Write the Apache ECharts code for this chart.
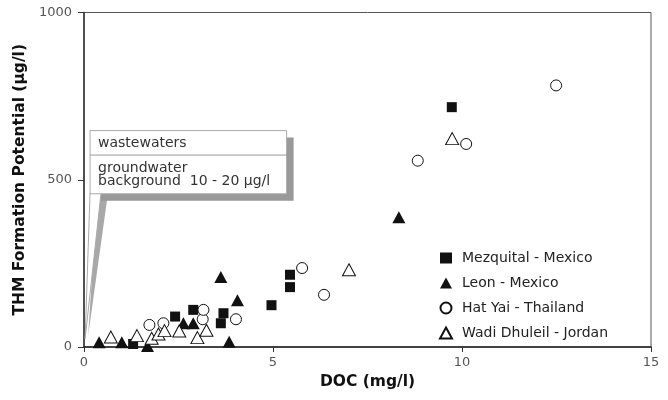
<!DOCTYPE html>
<html><head><meta charset="utf-8">
<script src="https://cdn.jsdelivr.net/npm/echarts@6/dist/echarts.min.js"></script>
<style>html,body{margin:0;padding:0;background:#fff}#c{width:668px;height:400px}</style>
</head><body><div id="c"></div>
<script>
// ---- data (DOC mg/l, THM formation potential µg/l) ----
const seriesNames = ["Mezquital - Mexico", "Leon - Mexico", "Hat Yai - Thailand", "Wadi Dhuleil - Jordan"];
const mezquitalDOC = [1.30, 2.41, 2.89, 3.62, 3.69, 4.96, 5.45, 5.45, 9.73];
const mezquitalTHM = [9, 91, 111, 71, 101, 125, 179, 216, 717];
const leonDOC = [0.40, 1.00, 1.68, 2.63, 2.89, 3.62, 3.84, 4.06, 8.33];
const leonTHM = [14, 14, 3, 71, 71, 209, 16, 140, 388];
const hatYaiDOC = [1.73, 2.10, 3.14, 3.16, 4.02, 5.77, 6.35, 8.83, 10.11, 12.49];
const hatYaiTHM = [66, 71, 83, 111, 83, 236, 156, 557, 607, 782];
const wadiDOC = [0.71, 1.40, 1.79, 1.97, 2.13, 2.52, 3.00, 3.24, 7.01, 9.74];
const wadiTHM = [30, 34, 26, 39, 49, 48, 28, 50, 231, 623];
const calloutLines = ["wastewaters", "groundwater", "background  10 - 20 µg/l"];
const calloutTip = [0.03, 25];

const pairs = (xs, ys) => xs.map((x, i) => [x, ys[i]]);
const FONT = "DejaVu Sans";

const chart = echarts.init(document.getElementById('c'), null, {renderer: 'canvas'});
const filled = {color: '#111', borderColor: '#111', borderWidth: 0, opacity: 1};
const hollow = {color: '#fff', borderColor: '#111', borderWidth: 1, opacity: 1};

chart.setOption({
  animation: false,
  backgroundColor: '#fff',
  grid: {left: 84, right: 17, top: 12.5, bottom: 53, show: true, borderColor: '#555', borderWidth: 1, backgroundColor: 'transparent'},
  xAxis: {
    type: 'value', min: 0, max: 15, interval: 5,
    name: 'DOC (mg/l)', nameLocation: 'middle', nameGap: 25,
    nameTextStyle: {fontFamily: FONT, fontWeight: 'bold', fontSize: 15.5, color: '#111'},
    axisLine: {show: true, lineStyle: {color: '#222', width: 1.5}},
    axisTick: {show: true, length: 5, lineStyle: {color: '#333'}},
    axisLabel: {fontFamily: FONT, fontSize: 13, color: '#555', margin: 9, formatter: v => String(v)},
    splitLine: {show: false}
  },
  yAxis: {
    type: 'value', min: 0, max: 1000, interval: 500,
    name: 'THM Formation Potential (µg/l)', nameLocation: 'middle', nameGap: 45,
    nameTextStyle: {fontFamily: FONT, fontWeight: 'bold', fontSize: 15.5, color: '#111'},
    axisLine: {show: true, lineStyle: {color: '#333', width: 1.5}},
    axisTick: {show: true, length: 6, lineStyle: {color: '#333'}},
    axisLabel: {fontFamily: FONT, fontSize: 13, color: '#555', margin: 12, formatter: v => String(v)},
    splitLine: {show: false}
  },
  legend: {
    orient: 'vertical', left: 434, top: 246, itemWidth: 12, itemHeight: 11, itemGap: 11,
    data: seriesNames,
    textStyle: {fontFamily: FONT, fontSize: 14, color: '#222', lineHeight: 14, padding: [0, 0, 0, 5]}
  },
  series: [
    {name: seriesNames[0], type: 'scatter', symbol: 'rect', symbolSize: 10, itemStyle: filled, data: pairs(mezquitalDOC, mezquitalTHM)},
    {name: seriesNames[1], type: 'scatter', symbol: 'triangle', symbolSize: [13, 12], itemStyle: filled, data: pairs(leonDOC, leonTHM)},
    {name: seriesNames[2], type: 'scatter', symbol: 'circle', symbolSize: 11, itemStyle: hollow, data: pairs(hatYaiDOC, hatYaiTHM)},
    {name: seriesNames[3], type: 'scatter', symbol: 'triangle', symbolSize: [13, 12], itemStyle: hollow, data: pairs(wadiDOC, wadiTHM)}
  ]
});

// ---- callout annotation anchored at data coordinates ----
const tip = chart.convertToPixel({gridIndex: 0}, calloutTip);
const boxTL = chart.convertToPixel({gridIndex: 0}, [0.16, 647]);
const boxBR = chart.convertToPixel({gridIndex: 0}, [5.36, 458]);
const bx = boxTL[0], by = boxTL[1], bw = boxBR[0] - boxTL[0], bh = boxBR[1] - boxTL[1];
const sh = 7;
chart.setOption({
  graphic: [
    {type: 'polygon', z: 10, shape: {points: [[bx + 7, by + bh + 6], [bx + 17, by + bh + 6], [tip[0] + 3, tip[1] - 3]]}, style: {fill: '#a8a8a8'}},
    {type: 'rect', z: 10, shape: {x: bx + sh, y: by + sh, width: bw, height: bh}, style: {fill: '#999'}},
    {type: 'polygon', z: 11, shape: {points: [[bx, by + bh - 1], [bx + 11, by + bh - 1], [tip[0], tip[1]]]}, style: {fill: '#fff', stroke: '#aaa', lineWidth: 1}},
    {type: 'rect', z: 12, shape: {x: bx, y: by, width: bw, height: bh}, style: {fill: '#fff', stroke: '#aaa', lineWidth: 1}},
    {type: 'line', z: 13, shape: {x1: bx, y1: by + 24.5, x2: bx + bw, y2: by + 24.5}, style: {stroke: '#999', lineWidth: 1}},
    {type: 'text', z: 13, x: bx + 8, y: by + 13, style: {text: calloutLines[0], font: '14px "DejaVu Sans"', fill: '#333', verticalAlign: 'middle'}},
    {type: 'text', z: 13, x: bx + 8, y: by + 38, style: {text: calloutLines[1], font: '14px "DejaVu Sans"', fill: '#333', verticalAlign: 'middle'}},
    {type: 'text', z: 13, x: bx + 8, y: by + 51, style: {text: calloutLines[2], font: '14px "DejaVu Sans"', fill: '#333', verticalAlign: 'middle'}}
  ]
});
</script>
</body></html>
